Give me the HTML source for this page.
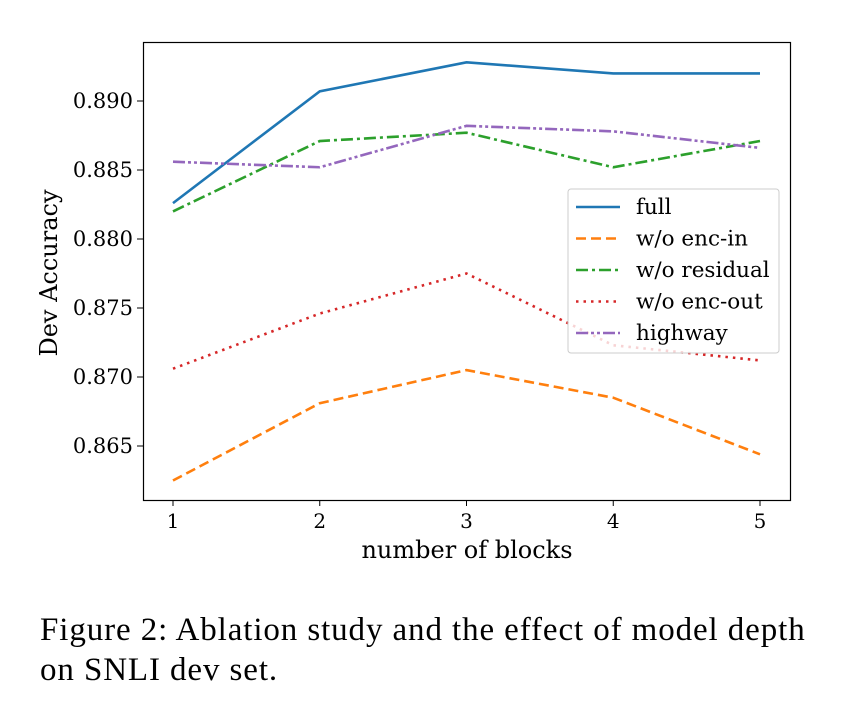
<!DOCTYPE html>
<html><head><meta charset="utf-8"><style>
body{margin:0;background:#fff;width:842px;height:714px;overflow:hidden}
svg text{font-family:"DejaVu Serif",serif}
.cap{position:absolute;left:40px;top:610px;font-family:"Liberation Serif",serif;font-size:33px;letter-spacing:0.9px;line-height:40px;color:#000;white-space:nowrap}
</style></head><body>
<svg id="chart" width="842" height="600" style="position:absolute;left:0;top:0"></svg>
<div class="cap">Figure 2: Ablation study and the effect of model depth<br>on SNLI dev set.</div>
<script>
const categories=[1,2,3,4,5];
const yTicks=[0.865,0.870,0.875,0.880,0.885,0.890];
const fullVals=[0.8826,0.8907,0.8928,0.8920,0.8920];
const encInVals=[0.8625,0.8681,0.8705,0.8685,0.8644];
const residualVals=[0.8820,0.8871,0.8877,0.8852,0.8871];
const encOutVals=[0.8706,0.8746,0.8775,0.8723,0.8712];
const highwayVals=[0.8856,0.8852,0.8882,0.8878,0.8866];
const seriesNames=["full","w/o enc-in","w/o residual","w/o enc-out","highway"];
const NS="http://www.w3.org/2000/svg";
const svg=document.getElementById('chart');
function x(v){return 173+(v-1)*(760-173)/4;}
function y(v){return 101+(0.890-v)/0.005*69;}
function mk(t,a,p){const e=document.createElementNS(NS,t);for(const k in a)e.setAttribute(k,a[k]);(p||svg).appendChild(e);return e;}
const frame=mk('rect',{x:143.5,y:42.5,width:647,height:458,fill:'none',stroke:'#000','stroke-width':1.2});


categories.forEach(c=>{
 const t=mk('line',{x1:x(c),x2:x(c),y1:500,y2:506,stroke:'#000'});
 
 
 const l=mk('text',{x:x(c),y:528,'text-anchor':'middle','font-size':20});
 l.textContent=c;
 
 
});
yTicks.forEach(v=>{
 const t=mk('line',{x1:137,x2:143,y1:y(v),y2:y(v),stroke:'#000'});
 
 
 const l=mk('text',{x:133,y:y(v)+7,'text-anchor':'end','font-size':21});
 l.textContent=v.toFixed(3);
 
 
});
const xt=mk('text',{x:467,y:558,'text-anchor':'middle','font-size':24});
xt.textContent='number of blocks';


const yt=mk('text',{x:57,y:273,'text-anchor':'middle','font-size':24,transform:'rotate(-90 57 273)'});
yt.textContent='Dev Accuracy';


const styles=[{c:'#1f77b4',d:''},{c:'#ff7f0e',d:'10 5'},{c:'#2ca02c',d:'12 4 3 4'},{c:'#d62728',d:'2.5 5'},{c:'#9467bd',d:'12 3 3 3 3 3'}];
const all=[fullVals,encInVals,residualVals,encOutVals,highwayVals];
const keys=['full','enc-in','residual','enc-out','highway'];
all.forEach((vals,i)=>{
 const p=mk('polyline',{points:vals.map((v,j)=>x(categories[j])+','+y(v)).join(' '),fill:'none',stroke:styles[i].c,'stroke-width':2.6,'stroke-dasharray':styles[i].d});
 
 
});
const lg=mk('g',{});


mk('rect',{x:568,y:189,width:211,height:164,rx:3,fill:'rgba(255,255,255,0.8)',stroke:'#ccc'},lg);
seriesNames.forEach((n,i)=>{
 const yy=207+i*31.5;
 const ln=mk('line',{x1:576,x2:620,y1:yy,y2:yy,stroke:styles[i].c,'stroke-width':2.6,'stroke-dasharray':styles[i].d},lg);
 
 
 const t=mk('text',{x:636,y:yy+7,'font-size':21.5},lg);
 t.textContent=n;
 
 
});
</script>
</body></html>
